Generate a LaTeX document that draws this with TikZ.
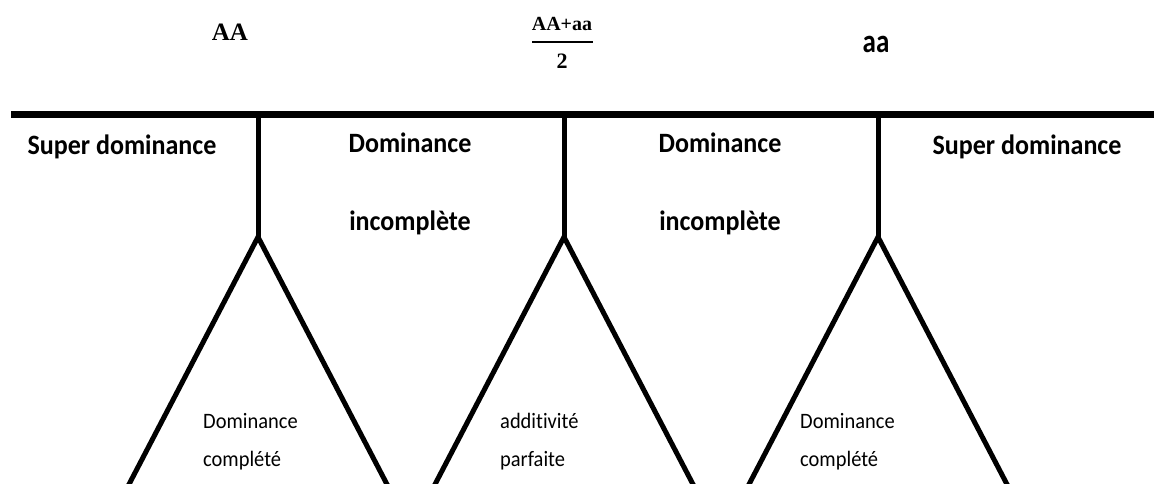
\documentclass[tikz,border=0pt]{standalone}
\usepackage{fontspec}
\setmainfont{Carlito}
\newfontfamily\cond[FakeStretch=0.93,Ligatures=NoCommon]{Carlito}
\newfontfamily\condaa[FakeStretch=0.82]{Carlito}
\newfontfamily\serifb{Liberation Serif}
\begin{document}
\begin{tikzpicture}[x=1pt,y=-1pt,
  big/.style={font=\cond\fontsize{28}{30}\selectfont\bfseries, inner sep=0pt, anchor=base},
  small/.style={font=\cond\fontsize{22}{24}\selectfont, inner sep=0pt, anchor=base west},
  serif/.style={font=\serifb\bfseries, inner sep=0pt, anchor=base},
  thick line/.style={line width=7pt},
  leg/.style={line width=5pt}]
\useasboundingbox (0,0) rectangle (1154,484);
% top labels
\node[serif, font=\serifb\fontsize{25}{27}\selectfont\bfseries] (AA) at (230,41) {AA};
\node[serif, font=\serifb\fontsize{20}{22}\selectfont\bfseries] (num) at (562,31) {AA+aa};
\node[serif, font=\serifb\fontsize{22}{24}\selectfont\bfseries] (den) at (562,69) {2};
\coordinate (barL) at (532,42);
\coordinate (barR) at (593,42);
\draw[line width=2pt] (barL) -- (barR);
\node[font=\condaa\fontsize{33}{35}\selectfont\bfseries, inner sep=0pt, anchor=base] (aa) at (876,53) {aa};
% frame
\coordinate (L) at (11,115);
\coordinate (R) at (1154,115);
\draw[thick line] (L) -- (R);
\foreach \n/\x in {a/258,b/564,c/878}{
  \coordinate (top\n) at (\x,115);
  \coordinate (apex\n) at (\x,237);
  \coordinate (bl\n) at (\x-133,492);
  \coordinate (br\n) at (\x+133,492);
  \draw[leg] (top\n) -- (apex\n);
  \draw[leg,line join=miter] (bl\n) -- (apex\n) -- (br\n);
}
% region labels
\node[big] (s1) at (122,154) {Super dominance};
\node[big] (d1) at (410,153) {Dominance};
\node[big] (i1) at (410,230) {incomplète};
\node[big] (d2) at (720,153) {Dominance};
\node[big] (i2) at (720,230) {incomplète};
\node[big] (s2) at (1027,154) {Super dominance};
% triangle labels
\node[small] (t1) at (203,428) {Dominance};
\node[small] (t1b) at (203,466) {complété};
\node[small] (t2) at (500,428) {additivité};
\node[small] (t2b) at (500,466) {parfaite};
\node[small] (t3) at (800,428) {Dominance};
\node[small] (t3b) at (800,466) {complété};
\end{tikzpicture}
\end{document}
